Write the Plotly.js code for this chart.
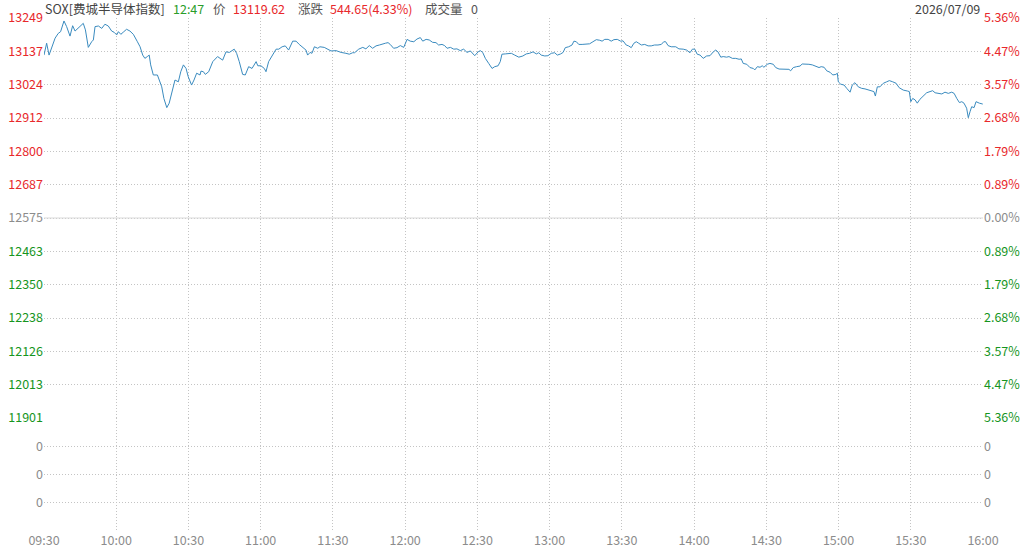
<!DOCTYPE html>
<html>
<head>
<meta charset="utf-8">
<script src="https://cdn.plot.ly/plotly-3.0.1.min.js"></script>
<style>html,body{margin:0;padding:0;background:#fff;}#chart{width:1024px;height:548px;}</style>
</head>
<body>
<div id="chart"></div>
<script>
// minutes after 09:30
const minutes = [0,1.1,2.1,3.2,4.6,5.9,6.9,8.3,9.4,10.8,11.9,12.9,13.8,15.0,16.3,17.2,18.4,19.8,20.5,21.2,22.6,24.0,25.3,26.7,28.1,29.1,30.2,30.9,31.9,32.9,34.3,35.7,37.1,38.8,39.9,41.0,41.9,42.9,43.7,44.3,45.4,47.1,47.9,48.9,49.8,51.0,52.0,53.0,54.4,55.8,56.8,57.9,59.0,59.9,61.3,62.3,63.4,64.8,
65.2,66.2,67.0,68.4,70.1,72.1,74.2,75.6,77.0,79.0,80.0,81.1,82.5,83.6,85.0,86.4,86.9,88.1,88.8,90.1,91.5,92.2,93.3,95.0,96.4,97.5,98.9,100.2,101.6,103.3,104.7,106.0,107.7,108.8,109.5,110.5,111.3,112.3,113.7,114.6,116.4,117.8,119.2,121.3,123.4,125.4,126.8,128.2,
129.0,130.7,132.4,133.7,135.1,136.5,137.9,139.3,140.7,141.8,142.9,143.8,145.2,146.6,148.0,149.4,150.8,152.1,153.6,154.9,156.3,157.3,158.7,160.0,161.4,162.8,163.9,165.3,166.4,167.4,168.8,170.2,171.5,172.9,174.3,175.7,177.1,178.9,180.3,181.2,182.2,183.3,184.7,186.1,187.2,188.6,189.5,190.2,191.6,193.0,
194.1,195.5,197.2,198.9,200.3,201.7,203.1,204.5,205.5,206.5,208.0,209.3,210.7,212.1,213.2,214.6,215.6,216.5,217.9,219.3,220.1,221.1,222.1,223.5,224.8,226.6,228.0,229.4,230.8,231.8,232.9,234.3,235.6,236.7,238.1,239.5,240.5,241.8,242.8,243.9,245.0,246.0,247.0,248.1,249.5,250.9,252.2,253.6,255.0,256.4,257.4,258.2,259.2,
260.5,262.4,263.7,265.5,266.9,268.3,269.3,270.3,271.3,272.5,273.8,275.2,276.6,278.0,279.0,279.9,281.1,282.1,283.5,284.5,285.9,287.3,288.7,289.6,290.4,291.9,293.2,294.6,295.2,296.3,297.4,298.3,299.0,300.4,301.5,302.9,303.9,305.3,306.6,308.0,309.4,310.1,311.2,312.6,314.0,314.9,316.4,317.7,319.1,320.5,321.9,322.8,324.0,
325.1,326.5,327.6,328.9,329.5,329.9,330.9,332.3,333.4,334.8,335.7,336.8,338.2,339.6,341.0,342.4,343.8,344.7,345.3,346.1,347.2,348.6,350.0,351.1,352.5,353.9,355.2,356.9,358.6,359.4,360.0,360.8,361.8,362.7,363.8,365.2,366.6,368.0,369.1,370.1,371.4,372.9,374.2,375.6,377.0,378.0,379.1,380.2,381.2,382.1,383.2,383.9,384.6,385.3,386.3,387.1,388.5,389.9];

const prices = [13124,13164,13124,13147,13181,13197,13203,13239,13220,13188,13223,13205,13212,13220,13231,13209,13150,13169,13175,13220,13222,13214,13228,13222,13205,13201,13192,13203,13194,13201,13211,13205,13194,13169,13152,13124,13113,13119,13124,13091,13057,13057,13040,13017,12978,12947,12962,12995,13040,13034,13068,13091,13079,13051,13023,13040,13063,13057,
13070,13068,13059,13068,13102,13119,13107,13135,13133,13144,13130,13102,13059,13057,13085,13079,13085,13102,13088,13088,13079,13068,13102,13124,13144,13144,13152,13155,13141,13171,13171,13160,13150,13141,13124,13133,13130,13152,13147,13152,13150,13144,13138,13139,13133,13130,13127,13132,
13132,13144,13150,13145,13156,13147,13155,13158,13160,13164,13166,13160,13147,13149,13156,13150,13177,13171,13169,13178,13183,13171,13177,13175,13167,13166,13158,13160,13156,13147,13150,13144,13145,13139,13144,13133,13138,13122,13135,13139,13133,13113,13096,13079,13085,13088,13102,13127,13128,13128,
13130,13124,13117,13121,13128,13130,13135,13128,13132,13124,13121,13122,13130,13132,13124,13128,13133,13149,13152,13158,13171,13169,13160,13160,13160,13162,13169,13176,13174,13171,13177,13177,13171,13176,13177,13171,13172,13158,13155,13149,13164,13169,13164,13158,13160,13155,13155,13158,13158,13160,13169,13169,13156,
13152,13152,13145,13144,13141,13132,13144,13144,13127,13124,13113,13121,13122,13135,13141,13135,13117,13119,13117,13119,13113,13113,13110,13111,13096,13093,13082,13079,13074,13085,13083,13088,13083,13093,13096,13093,13082,13077,13076,13077,13076,13071,13082,13085,13087,13094,13094,13093,13091,13087,13082,13085,13083,
13071,13066,13057,13059,13063,13034,13026,13023,13012,12999,13023,13031,13017,13012,13010,13006,13004,13001,12986,13017,13017,13029,13034,13038,13034,13029,13014,13006,13003,13001,12967,12978,12973,12962,12975,12986,12997,13001,13004,12997,12995,12993,12999,12995,12999,12995,12978,12964,12967,12962,12945,12913,12933,12950,12947,12967,12962,12959];

const prevClose = 12575;
const priceTicks = [13249,13137,13024,12912,12800,12687,12575,12463,12350,12238,12126,12013,11901];
const pctLabels = ['5.36%','4.47%','3.57%','2.68%','1.79%','0.89%','0.00%','0.89%','1.79%','2.68%','3.57%','4.47%','5.36%'];
const timeTicks = [0,30,60,90,120,150,180,210,240,270,300,330,360,390];
const timeLabels = ['09:30','10:00','10:30','11:00','11:30','12:00','12:30','13:00','13:30','14:00','14:30','15:00','15:30','16:00'];
const volTicks = [0,1,2,3];
const volLabels = ['','0','0','0'];

const RED = '#e8282b', GREEN = '#16951e', GRAY = '#8c8c8c';
function colorFor(v){ return v > prevClose ? RED : (v < prevClose ? GREEN : GRAY); }
const leftText = priceTicks.map(v => '<span style="color:' + colorFor(v) + '">' + v + '</span>');
const rightText = priceTicks.map((v,i) => '<span style="color:' + colorFor(v) + '">' + pctLabels[i] + '</span>');

const gridCol = '#c4c4c4';
const gridDash = '1px,2px';
const tickFont = {family: '"Noto Sans CJK SC", "Liberation Sans", Arial, sans-serif', size: 12.5, color: GRAY};
const split = (531 - 418) / 513;

const traces = [
  {x: minutes, y: prices, type: 'scatter', mode: 'lines', line: {color: '#3a8bbf', width: 1}, xaxis: 'x', yaxis: 'y', hoverinfo: 'skip'},
  {x: [], y: [], type: 'scatter', mode: 'lines', xaxis: 'x', yaxis: 'y2'},
  {x: [], y: [], type: 'scatter', mode: 'lines', xaxis: 'x', yaxis: 'y3'},
  {x: [], y: [], type: 'scatter', mode: 'lines', xaxis: 'x', yaxis: 'y4'}
];

const hdrFont = {family: '"Noto Sans CJK SC", sans-serif', size: 12.5};
const hy = 1 + 9/513;
function hdr(text, px, color, anchor){
  return {xref: 'paper', yref: 'paper', x: (px - 44)/939, y: hy, xanchor: anchor || 'left', yanchor: 'middle',
          text: text, showarrow: false, borderpad: 0, font: Object.assign({color: color}, hdrFont)};
}

const layout = {
  width: 1024, height: 548,
  margin: {l: 44, r: 41, t: 18, b: 17, pad: 0},
  paper_bgcolor: '#fff', plot_bgcolor: '#fff',
  showlegend: false,
  xaxis: {range: [0, 390], tickmode: 'array', tickvals: timeTicks, ticktext: timeLabels,
          showgrid: true, gridcolor: gridCol, griddash: gridDash, gridwidth: 1, zeroline: false, showline: false,
          ticks: '', tickfont: tickFont, anchor: 'y2', fixedrange: true},
  yaxis: {domain: [split, 1], range: [11901, 13249], tickmode: 'array', tickvals: priceTicks, ticktext: leftText,
          showgrid: true, gridcolor: gridCol, griddash: gridDash, zeroline: false, showline: false, ticks: '',
          tickfont: tickFont, anchor: 'x'},
  yaxis2: {domain: [0, split], range: [0, 4], tickmode: 'array', tickvals: volTicks, ticktext: volLabels,
          showgrid: true, gridcolor: gridCol, griddash: gridDash, zeroline: false, showline: false, ticks: '',
          tickfont: tickFont, anchor: 'x'},
  yaxis3: {overlaying: 'y', side: 'right', range: [11901, 13249], tickmode: 'array', tickvals: priceTicks, ticktext: rightText,
          showgrid: false, zeroline: false, showline: false, ticks: '', tickfont: tickFont, anchor: 'x'},
  yaxis4: {overlaying: 'y2', side: 'right', range: [0, 4], tickmode: 'array', tickvals: volTicks, ticktext: volLabels,
          showgrid: false, zeroline: false, showline: false, ticks: '', tickfont: tickFont, anchor: 'x'},
  shapes: [
    {type: 'line', xref: 'x', yref: 'y', x0: 0, x1: 390, y0: prevClose, y1: prevClose, line: {color: '#d9d9d9', width: 1}}
  ],
  annotations: [
    hdr('SOX[费城半导体指数]', 44, '#444'),
    hdr('12:47', 172, '#2a9d2a'),
    hdr('价', 212, '#555'),
    hdr('13119.62', 232, RED),
    hdr('涨跌', 297, '#555'),
    hdr('544.65(4.33%)', 329, RED),
    hdr('成交量', 424, '#555'),
    hdr('0', 470, '#555'),
    hdr('2026/07/09', 981, '#444', 'right')
  ]
};

Plotly.newPlot('chart', traces, layout, {displayModeBar: false, staticPlot: true});
</script>
</body>
</html>
